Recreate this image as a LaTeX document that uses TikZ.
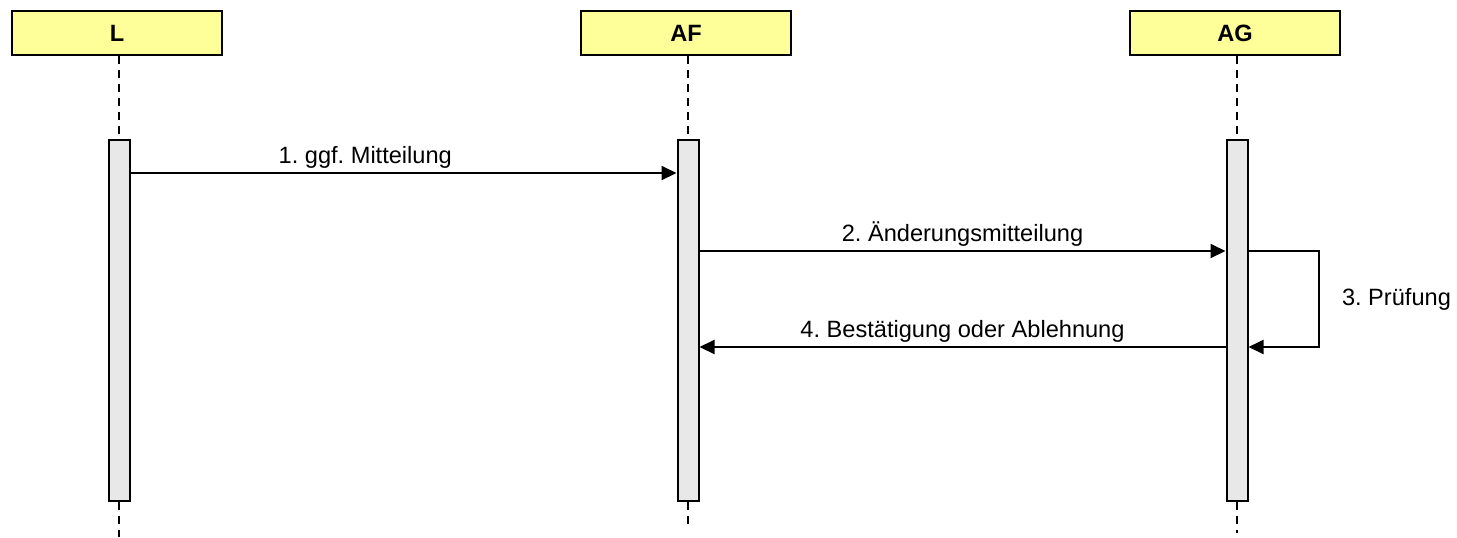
\documentclass[tikz,border=0pt]{standalone}
\usepackage{fontspec}
\setmainfont{Liberation Sans}
\usetikzlibrary{positioning, arrows.meta}
\definecolor{headyellow}{HTML}{FFFF99}
\definecolor{bargray}{HTML}{E8E8E8}
\frenchspacing

\begin{document}
\begin{tikzpicture}[x=0.5pt,y=-0.5pt,
    head/.style={draw, line width=1pt, fill=headyellow, minimum width=105pt, minimum height=22pt,
        font=\bfseries\fontsize{11.8}{14}\selectfont},
    bar/.style={draw, line width=1pt, fill=bargray, minimum width=10.5pt, minimum height=180.5pt, inner sep=0pt},
    life/.style={line width=0.8pt, dash pattern=on 4pt off 3pt},
    msg/.style={line width=1pt, -{Triangle[length=7.5pt,width=7pt]}},
    lbl/.style={font=\fontsize{11.8}{14}\selectfont, above, inner sep=2pt}]
        \useasboundingbox (0,0) rectangle (1457,537);
        % Lifelines
        \foreach \n/\x/\e in {L/119/537, AF/688/527, AG/1237/533} {
            \node[head] (\n) at (\x-2,33) {\n};
            \node[bar] (\n bar) at (\x,320) {};
            \coordinate (\n end) at (\x,\e);
            \draw[life] (\n.south -| \n bar) -- (\n bar.north);
            \draw[life] (\n bar.south) -- (\n end);
        }
        % Message levels
        \coordinate (m1) at (0,173);
        \coordinate (m2) at (0,251);
        \coordinate (m4) at (0,347);
        \coordinate (loop a) at (1319,251);
        \coordinate (loop b) at (1319,347);
        % Messages
        \draw[msg] (Lbar.east |- m1) -- node[lbl, pos=0.43] {1. ggf. Mitteilung} (AFbar.west |- m1);
        \draw[msg] (AFbar.east |- m2) -- node[lbl] {2. Änderungsmitteilung} (AGbar.west |- m2);
        \draw[msg] (AGbar.east |- m2) -- (loop a) -- node[right, font=\fontsize{11.8}{14}\selectfont, inner sep=11pt] {3. Prüfung} (loop b) -- (AGbar.east |- m4);
        \draw[msg] (AGbar.west |- m4) -- node[lbl] {4. Bestätigung oder Ablehnung} (AFbar.east |- m4);
\end{tikzpicture}
\end{document}
